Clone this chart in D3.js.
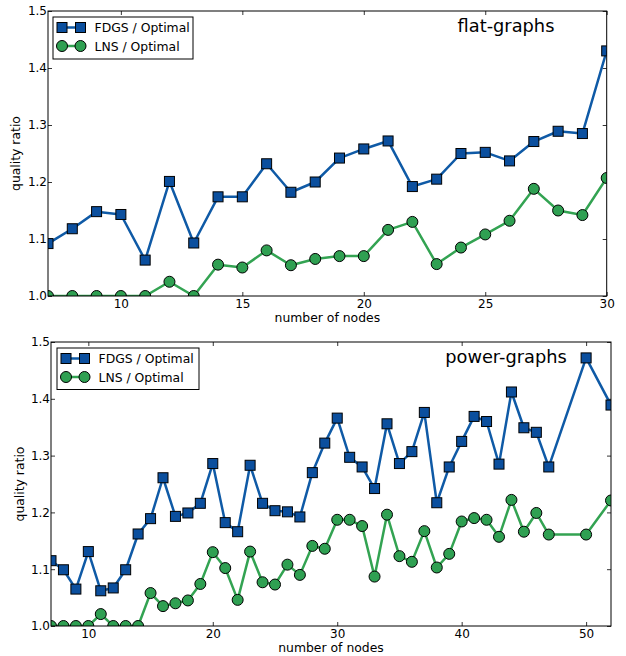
<!DOCTYPE html>
<html>
<head>
<meta charset="utf-8">
<script src="https://cdn.jsdelivr.net/npm/d3@7"></script>
<style>
  html, body { margin: 0; padding: 0; background: #fff; }
  svg { display: block; }
  text { font-family: "DejaVu Sans", sans-serif; fill: #000; }
</style>
</head>
<body>
<svg id="chart" width="626" height="656"></svg>
<script>
// ---- data ----
const flatNodes = [7,8,9,10,11,12,13,14,15,16,17,18,19,20,21,22,23,24,25,26,27,28,29,30];
const flatFDGS  = [1.092,1.118,1.148,1.143,1.063,1.201,1.093,1.174,1.174,1.232,1.182,1.200,1.242,1.258,1.272,1.192,1.205,1.250,1.252,1.237,1.271,1.289,1.285,1.430];
const flatLNS   = [1.000,1.000,1.000,1.000,1.000,1.025,1.000,1.055,1.050,1.080,1.054,1.065,1.070,1.070,1.116,1.130,1.056,1.085,1.108,1.132,1.188,1.150,1.142,1.207];

const powerNodes = [7,8,9,10,11,12,13,14,15,16,17,18,19,20,21,22,23,24,25,26,27,28,29,30,31,32,33,34,35,36,37,38,39,40,41,42,43,44,45,46,47,50,52];
const powerFDGS  = [1.115,1.099,1.065,1.131,1.062,1.067,1.099,1.162,1.189,1.261,1.193,1.199,1.216,1.286,1.182,1.166,1.283,1.216,1.203,1.201,1.192,1.270,1.322,1.366,1.297,1.280,1.242,1.356,1.286,1.307,1.376,1.217,1.280,1.325,1.369,1.360,1.285,1.412,1.349,1.341,1.280,1.472,1.389];
const powerLNS   = [1.000,1.000,1.000,1.000,1.021,1.000,1.000,1.000,1.058,1.035,1.040,1.045,1.074,1.130,1.102,1.046,1.131,1.077,1.073,1.108,1.090,1.141,1.136,1.187,1.187,1.176,1.087,1.196,1.123,1.113,1.167,1.103,1.127,1.184,1.190,1.187,1.157,1.222,1.166,1.199,1.161,1.161,1.221];

const yTicks = [1.0,1.1,1.2,1.3,1.4,1.5];
const flatXTicks = [10,15,20,25,30];
const powerXTicks = [10,20,30,40,50];
const seriesNames = ["FDGS / Optimal", "LNS / Optimal"];

// ---- style ----
const blueLine = "#0f5aa6", blueFill = "#0b4f9e";
const greenLine = "#33a352", greenFill = "#2fa052";

const svg = d3.select("#chart");

function panel(cfg) {
  const g = svg.append("g");
  const x = d3.scaleLinear().domain(cfg.xDomain).range([cfg.left, cfg.right]);
  const y = d3.scaleLinear().domain([1.0, 1.5]).range([cfg.bottom, cfg.top]);
  const clipId = "clip" + cfg.id;
  svg.append("defs").append("clipPath").attr("id", clipId)
    .append("rect").attr("x", cfg.left).attr("y", cfg.top)
    .attr("width", cfg.right - cfg.left).attr("height", cfg.bottom - cfg.top);

  // axes (ticks inside, all four sides)
  const tl = 4;
  g.append("g").attr("transform", `translate(0,${cfg.bottom})`)
    .call(d3.axisBottom(x).tickValues(cfg.xTicks).tickSize(-tl).tickPadding(3).tickFormat(d3.format("d")))
    .call(a => { a.select(".domain").remove(); a.selectAll("text").attr("font-size", 12).attr("font-family", "DejaVu Sans"); });
  g.append("g").attr("transform", `translate(0,${cfg.top})`)
    .call(d3.axisTop(x).tickValues(cfg.xTicks).tickSize(-tl).tickFormat(""))
    .call(a => a.select(".domain").remove());
  g.append("g").attr("transform", `translate(${cfg.left},0)`)
    .call(d3.axisLeft(y).tickValues(yTicks).tickSize(-tl).tickPadding(1).tickFormat(d3.format(".1f")))
    .call(a => { a.select(".domain").remove(); a.selectAll("text").attr("font-size", 12).attr("font-family", "DejaVu Sans"); });
  g.append("g").attr("transform", `translate(${cfg.right},0)`)
    .call(d3.axisRight(y).tickValues(yTicks).tickSize(-tl).tickFormat(""))
    .call(a => a.select(".domain").remove());
  g.selectAll(".tick line").attr("stroke", "#000").attr("stroke-width", 0.8);

  // series
  const plot = g.append("g").attr("clip-path", `url(#${clipId})`);
  const line = d3.line().x(d => x(d[0])).y(d => y(d[1]));
  const sFDGS = cfg.nodes.map((n, i) => [n, cfg.fdgs[i]]);
  const sLNS = cfg.nodes.map((n, i) => [n, cfg.lns[i]]);

  plot.append("path").datum(sFDGS).attr("d", line).attr("fill", "none")
    .attr("stroke", blueLine).attr("stroke-width", 2.5).attr("stroke-linejoin", "round");
  plot.append("path").datum(sLNS).attr("d", line).attr("fill", "none")
    .attr("stroke", greenLine).attr("stroke-width", 2.5).attr("stroke-linejoin", "round");

  const ms = 10;
  plot.selectAll("rect.m").data(sFDGS).join("rect").attr("class", "m")
    .attr("x", d => x(d[0]) - ms / 2).attr("y", d => y(d[1]) - ms / 2)
    .attr("width", ms).attr("height", ms)
    .attr("fill", blueFill).attr("stroke", "#000").attr("stroke-width", 1);
  plot.selectAll("circle.m").data(sLNS).join("circle").attr("class", "m")
    .attr("cx", d => x(d[0])).attr("cy", d => y(d[1])).attr("r", 5.5)
    .attr("fill", greenFill).attr("stroke", "#000").attr("stroke-width", 1);

  // frame
  g.append("rect").attr("x", cfg.left).attr("y", cfg.top)
    .attr("width", cfg.right - cfg.left).attr("height", cfg.bottom - cfg.top)
    .attr("fill", "none").attr("stroke", "#000").attr("stroke-width", 1);

  // axis labels
  g.append("text").attr("x", (cfg.left + cfg.right) / 2).attr("y", cfg.bottom + 25.5)
    .attr("text-anchor", "middle").attr("font-size", 12.4).text("number of nodes");
  g.append("text").attr("transform", `translate(${cfg.ylabX},${(cfg.top + cfg.bottom) / 2}) rotate(-90)`)
    .attr("text-anchor", "middle").attr("font-size", 12.4).text("quality ratio");

  // panel title
  g.append("text").attr("x", cfg.titleX).attr("y", cfg.top + 20.5)
    .attr("text-anchor", "middle").attr("font-family", "Liberation Sans, Arial, sans-serif")
    .attr("font-size", 17.8).text(cfg.title);

  // legend
  const lg = g.append("g");
  lg.append("rect").attr("x", cfg.leg.x).attr("y", cfg.leg.y).attr("width", cfg.leg.w).attr("height", cfg.leg.h)
    .attr("fill", "#fff").attr("stroke", "#000").attr("stroke-width", 1);
  const rows = [
    {name: seriesNames[0], stroke: blueLine, fill: blueFill, shape: "sq"},
    {name: seriesNames[1], stroke: greenLine, fill: greenFill, shape: "ci"}
  ];
  rows.forEach((r, i) => {
    const cy = cfg.leg.y + 10.5 + i * 18.5;
    const x1 = cfg.leg.x + 9, x2 = cfg.leg.x + 27.5;
    lg.append("line").attr("x1", x1).attr("x2", x2).attr("y1", cy).attr("y2", cy)
      .attr("stroke", r.stroke).attr("stroke-width", 2.5);
    [x1, x2].forEach(mx => {
      if (r.shape === "sq") {
        lg.append("rect").attr("x", mx - ms / 2).attr("y", cy - ms / 2).attr("width", ms).attr("height", ms)
          .attr("fill", r.fill).attr("stroke", "#000").attr("stroke-width", 1);
      } else {
        lg.append("circle").attr("cx", mx).attr("cy", cy).attr("r", 5.5)
          .attr("fill", r.fill).attr("stroke", "#000").attr("stroke-width", 1);
      }
    });
    lg.append("text").attr("x", cfg.leg.x + 41.5).attr("y", cy + 4.5)
      .attr("font-size", 12.4).text(r.name);
  });
}

panel({
  id: "flat", xDomain: [7, 30], left: 48, right: 606.7, top: 11, bottom: 296,
  nodes: flatNodes, fdgs: flatFDGS, lns: flatLNS, xTicks: flatXTicks,
  title: "flat-graphs", titleX: 506, ylabX: 20,
  leg: {x: 53, y: 17, w: 140, h: 42}
});
panel({
  id: "power", xDomain: [7, 52], left: 51, right: 611, top: 342, bottom: 626,
  nodes: powerNodes, fdgs: powerFDGS, lns: powerLNS, xTicks: powerXTicks,
  title: "power-graphs", titleX: 506, ylabX: 24,
  leg: {x: 57, y: 348, w: 142, h: 41.5}
});
</script>
</body>
</html>
